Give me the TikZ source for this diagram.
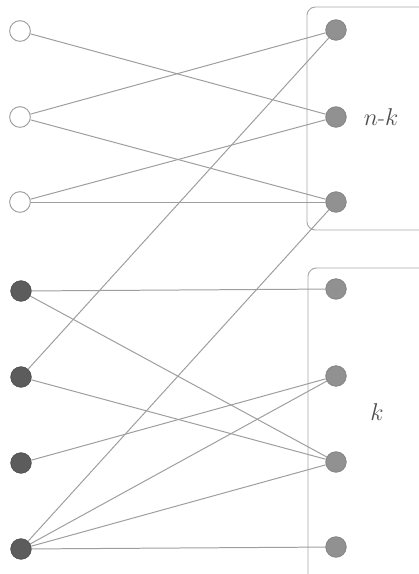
\documentclass[tikz,border=0pt]{standalone}
\usetikzlibrary{positioning}

\definecolor{edgegray}{gray}{0.62}
\definecolor{leftgray}{gray}{0.36}
\definecolor{rightgray}{gray}{0.57}

\tikzset{
  open/.style={circle, draw=edgegray, fill=white, line width=0.8pt, minimum size=0.62cm, inner sep=0pt},
  dark/.style={circle, draw=leftgray!80!black, fill=leftgray, line width=0.5pt, minimum size=0.62cm, inner sep=0pt},
  light/.style={circle, draw=rightgray!85!black, fill=rightgray, line width=0.5pt, minimum size=0.62cm, inner sep=0pt},
  edge/.style={draw=edgegray, line width=0.85pt},
  group/.style={draw=edgegray!90, line width=0.8pt, rounded corners=0.25cm},
  tag/.style={text=black!70, font=\fontsize{20}{24}\selectfont}
}

\begin{document}
\begin{tikzpicture}[x=0.03cm, y=-0.03cm]
  \useasboundingbox (0,0) rectangle (419,574);

  % Groups
  \draw[group] (307,7) rectangle (428,230);
  \draw[group] (308,268) rectangle (428,590);
  \node[tag] (nk) at (381,117) {$n$-$k$};
  \node[tag] (kk) at (377,412) {$k$};

  % Left side
  \foreach \i/\y in {1/31, 2/117, 3/202} {
    \node[open] (l\i) at (20,\y) {};
  }
  \foreach \i/\y in {4/291, 5/377, 6/463, 7/549} {
    \node[dark] (l\i) at (21,\y) {};
  }

  % Right side
  \foreach \i/\y in {1/30, 2/117, 3/202, 4/289, 5/376, 6/462, 7/547} {
    \node[light] (r\i) at (336,\y) {};
  }

  % Edges
  \foreach \a/\b in {1/2, 2/1, 2/3, 3/2, 3/3, 4/4, 4/6, 5/1, 5/6, 6/5, 7/3, 7/5, 7/6, 7/7} {
    \draw[edge] (l\a) -- (r\b);
  }
\end{tikzpicture}
\end{document}
